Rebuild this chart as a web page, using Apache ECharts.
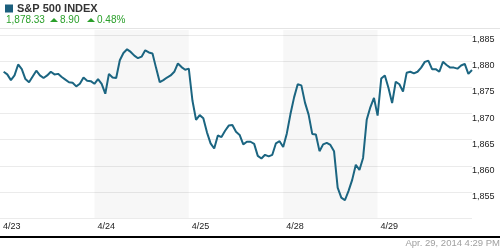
<!DOCTYPE html>
<html>
<head>
<meta charset="utf-8">
<script src="https://cdn.jsdelivr.net/npm/echarts@6/dist/echarts.min.js"></script>
<style>
html,body{margin:0;padding:0;background:#fff;}
#chart{width:500px;height:250px;}
</style>
</head>
<body>
<div id="chart"></div>
<script>
// ---- data ----
const dates = ['4/23', '4/24', '4/25', '4/28', '4/29'];
const shadedDays = [1, 3];
const day1 = [1878.0, 1877.5, 1876.4, 1877.3, 1879.4, 1878.5, 1876.6, 1876.0, 1877.1, 1878.2, 1877.3, 1876.8, 1877.3, 1878.0, 1877.5, 1877.6, 1877.0, 1876.5, 1876.0, 1875.9, 1875.2, 1875.7, 1876.9, 1876.3, 1876.2, 1875.7];
const day2 = [1876.6, 1875.7, 1873.8, 1877.6, 1876.9, 1876.8, 1880.2, 1881.6, 1882.3, 1881.8, 1881.1, 1880.6, 1880.9, 1882.1, 1881.7, 1881.5, 1878.7, 1876.0, 1876.4, 1876.9, 1877.3, 1878.0, 1879.6, 1878.9, 1878.4, 1878.6];
const day3 = [1872.5, 1868.8, 1869.7, 1869.1, 1866.4, 1864.3, 1863.3, 1865.8, 1865.5, 1866.7, 1867.7, 1867.8, 1866.5, 1865.9, 1864.1, 1864.6, 1864.6, 1864.2, 1861.9, 1861.4, 1862.1, 1861.8, 1862.1, 1864.3, 1864.7, 1863.6];
const day4 = [1866.2, 1869.9, 1873.1, 1875.6, 1875.4, 1872.1, 1869.8, 1866.1, 1866.0, 1862.8, 1864.1, 1864.4, 1864.0, 1862.8, 1855.8, 1853.9, 1853.4, 1855.2, 1857.3, 1860.2, 1859.2, 1861.5, 1868.8, 1871.2, 1873.0, 1869.6];
const day5 = [1876.7, 1877.3, 1874.9, 1872.0, 1876.1, 1875.6, 1874.2, 1877.8, 1878.0, 1877.7, 1878.0, 1878.8, 1879.9, 1880.1, 1878.5, 1878.5, 1878.0, 1879.9, 1879.3, 1878.8, 1878.8, 1878.6, 1879.2, 1879.5, 1877.6, 1878.33];
const days = [day1, day2, day3, day4, day5];
const yMin = 1850, yMax = 1886, yStep = 5;
const titleText = 'S&P 500 INDEX';
const lastPrice = '1,878.33';
const change = '8.90';
const changePct = '0.48%';
const stamp = 'Apr. 29, 2014 4:29 PM';

// ---- build ----
const perDay = day1.length;
const seriesData = [];
days.forEach((arr, d) => arr.forEach((v, k) => seriesData.push([d * perDay + k + 1, v])));
const fmt = v => String(v).replace(/\B(?=(\d{3})+(?!\d))/g, ',');
const FONT = '"Liberation Sans", Arial, sans-serif';
const green = '#2ba02b';

const chart = echarts.init(document.getElementById('chart'), null, {renderer: 'canvas'});
chart.setOption({
  animation: false,
  backgroundColor: '#fff',
  grid: {left: 0, right: 28, top: 30, bottom: 32, containLabel: false},
  xAxis: {
    type: 'value', min: 0, max: perDay * dates.length, interval: perDay,
    axisLine: {show: false}, axisTick: {show: false}, splitLine: {show: false},
    axisLabel: {
      show: true, margin: 4, align: 'left', verticalAlign: 'top', padding: [0, 0, 0, 3],
      fontSize: 9, color: '#222', fontFamily: FONT,
      showMaxLabel: false,
      formatter: v => dates[Math.round(v / perDay)] || ''
    }
  },
  yAxis: {
    type: 'value', position: 'right', min: yMin, max: yMax, interval: yStep,
    axisLine: {show: false}, axisTick: {show: false},
    splitLine: {show: true, showMaxLine: false, lineStyle: {color: '#ebebeb', width: 1}},
    axisLabel: {
      margin: 0, align: 'left', verticalAlign: 'top', fontSize: 9, color: '#222', fontFamily: FONT,
      formatter: v => (v % yStep !== 0 || v === yMin) ? '' : fmt(v)
    }
  },
  series: [{
    type: 'line', data: seriesData, symbol: 'none', smooth: false,
    lineStyle: {color: '#1b6581', width: 2},
    markArea: {
      silent: true,
      itemStyle: {color: 'rgba(0,0,0,0.03)', opacity: 1},
      data: shadedDays.map(d => [{xAxis: d * perDay}, {xAxis: (d + 1) * perDay}])
    },
    z: 3
  }],
  graphic: [
    {type: 'rect', shape: {x: 5, y: 4.5, width: 8, height: 8}, style: {fill: '#1b5f7d'}},
    {type: 'text', x: 17, y: 8.5, style: {text: titleText, font: 'bold 11px ' + FONT, fill: '#333', textVerticalAlign: 'middle'}},
    {type: 'text', x: 6, y: 20.5, style: {text: lastPrice, font: '10px ' + FONT, fill: green, textVerticalAlign: 'middle'}},
    {type: 'polygon', shape: {points: [[50, 22], [58, 22], [54, 18]]}, style: {fill: green}},
    {type: 'text', x: 60, y: 20.5, style: {text: change, font: '10px ' + FONT, fill: green, textVerticalAlign: 'middle'}},
    {type: 'polygon', shape: {points: [[87, 22], [95, 22], [91, 18]]}, style: {fill: green}},
    {type: 'text', x: 97, y: 20.5, style: {text: changePct, font: '10px ' + FONT, fill: green, textVerticalAlign: 'middle'}},
    {type: 'line', shape: {x1: 0, y1: 28.5, x2: 500, y2: 28.5}, style: {stroke: '#e4e4e4', lineWidth: 1}},
    {type: 'rect', shape: {x: 0, y: 236, width: 500, height: 2}, style: {fill: '#000'}},
    {type: 'text', x: 500, y: 243.5, style: {text: stamp, font: '9.5px ' + FONT, fill: '#a0a0a0', textAlign: 'right', textVerticalAlign: 'middle'}}
  ]
});
</script>
</body>
</html>
